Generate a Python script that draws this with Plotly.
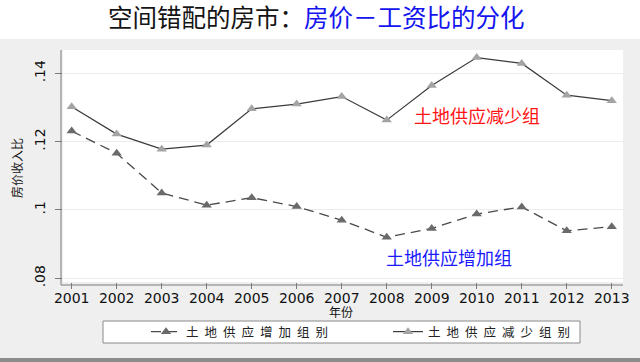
import plotly.graph_objects as go

# ---- data ----
years = [2001, 2002, 2003, 2004, 2005, 2006, 2007, 2008, 2009, 2010, 2011, 2012, 2013]
year_labels = [str(y) for y in years]
increase_group = [0.1231, 0.1166, 0.1050, 0.1014, 0.1036, 0.1010, 0.0970,
                  0.0920, 0.0946, 0.0988, 0.1009, 0.0939, 0.0951]
decrease_group = [0.1302, 0.1222, 0.1178, 0.1190, 0.1296, 0.1310, 0.1332,
                  0.1263, 0.1364, 0.1446, 0.1429, 0.1336, 0.1320]
y_ticks = [0.08, 0.10, 0.12, 0.14]
y_tick_labels = [".08", ".1", ".12", ".14"]
series_names = ["土地供应增加组别", "土地供应减少组别"]
label_decrease = "土地供应减少组"
label_increase = "土地供应增加组"
x_title = "年份"
y_title = "房价收入比"

# ---- layout geometry ----
W, H = 640, 362
L, R, T, B = 63, 17, 50, 80
PW, PH = W - L - R, H - T - B


def px(x):
    return (x - L) / PW


def py(y):
    return (H - B - y) / PH


CJK = "Noto Sans CJK SC"
NUM = "DejaVu Sans"


def spaced(s):
    return "<span style='letter-spacing:6px'>" + s + "</span>"


fig = go.Figure()
fig.add_trace(go.Scatter(
    x=years, y=increase_group, name=spaced(series_names[0]), mode="lines+markers",
    line=dict(color="#4a4a4a", width=1.3, dash="10px,6px"),
    marker=dict(symbol="triangle-up", size=9, color="#6a6a6a"),
))
fig.add_trace(go.Scatter(
    x=years, y=decrease_group, name=spaced(series_names[1]), mode="lines+markers",
    line=dict(color="#3a3a3a", width=1.2),
    marker=dict(symbol="triangle-up", size=9, color="#a4a4a4"),
))

shapes = [
    # white strip at the top
    dict(type="rect", xref="paper", yref="paper", x0=px(0), x1=px(W), y0=py(39), y1=py(0),
         fillcolor="white", line=dict(width=0), layer="above"),
    # dark band at the bottom
    dict(type="rect", xref="paper", yref="paper", x0=px(0), x1=px(W), y0=py(H), y1=py(358),
         fillcolor="#8c8c8c", line=dict(width=0), layer="above"),
    # offset axis lines
    dict(type="line", xref="paper", yref="paper", x0=px(61), x1=px(61), y0=py(285), y1=py(50),
         line=dict(color="#7a7a7a", width=1), layer="above"),
    dict(type="line", xref="paper", yref="paper", x0=px(61), x1=px(623), y0=py(285), y1=py(285),
         line=dict(color="#7a7a7a", width=1), layer="above"),
    # legend frame
    dict(type="rect", xref="paper", yref="paper", x0=px(103), x1=px(580), y0=py(343), y1=py(321),
         fillcolor="white", line=dict(color="#8a8a8a", width=1), layer="above"),
]

annotations = [
    dict(x=2010.0, y=0.1278, xref="x", yref="y", text=label_decrease, showarrow=False,
         font=dict(family=CJK, size=18, color="#ff1414")),
    dict(x=2009.38, y=0.0863, xref="x", yref="y", text=label_increase, showarrow=False,
         font=dict(family=CJK, size=18, color="#1a1aff")),
    dict(x=px(341), y=py(311), xref="paper", yref="paper", text=x_title, showarrow=False,
         xanchor="center", yanchor="middle",
         font=dict(family=CJK, size=12, color="#111")),
    dict(x=px(16), y=py(168), xref="paper", yref="paper", text=y_title, showarrow=False,
         textangle=-90, xanchor="center", yanchor="middle",
         font=dict(family=CJK, size=12, color="#111")),
    dict(x=px(316), y=py(16), xref="paper", yref="paper", showarrow=False,
         xanchor="center", yanchor="middle",
         text="空间错配的房市：<span style='color:#1414f0'>房价－工资比的分化</span>",
         font=dict(family=CJK, size=24.5, color="#141414")),
]

fig.update_layout(
    width=W, height=H,
    margin=dict(l=L, r=R, t=T, b=B, autoexpand=False),
    paper_bgcolor="#efefef", plot_bgcolor="white",
    shapes=shapes,
    annotations=annotations,
    showlegend=True,
    legend=dict(
        orientation="h", x=px(146), xanchor="left", y=py(332), yanchor="middle",
        bgcolor="rgba(0,0,0,0)", borderwidth=0,
        font=dict(family=CJK, size=12.5, color="#222"),
        entrywidth=197, entrywidthmode="pixels",
    ),
    xaxis=dict(
        range=[2000.807, 2013.25], tickmode="array", tickvals=years, ticktext=year_labels,
        showgrid=False, zeroline=False, showline=False,
        ticks="outside", ticklen=6, tickcolor="#7a7a7a", ticklabelstandoff=-3,
        tickfont=dict(family=NUM, size=14, color="#111"),
    ),
    yaxis=dict(
        range=[0.07892, 0.14682], tickmode="array", tickvals=y_ticks, ticktext=y_tick_labels,
        showgrid=True, gridcolor="#ebebeb", gridwidth=1, zeroline=False, showline=False,
        ticks="outside", ticklen=7, tickcolor="#7a7a7a", tickangle=-90,
        ticklabelstandoff=4,
        tickfont=dict(family=NUM, size=14, color="#111"),
    ),
)

fig.write_html("out.html", config={"displayModeBar": False},
               post_script="document.body.style.margin='0';")
